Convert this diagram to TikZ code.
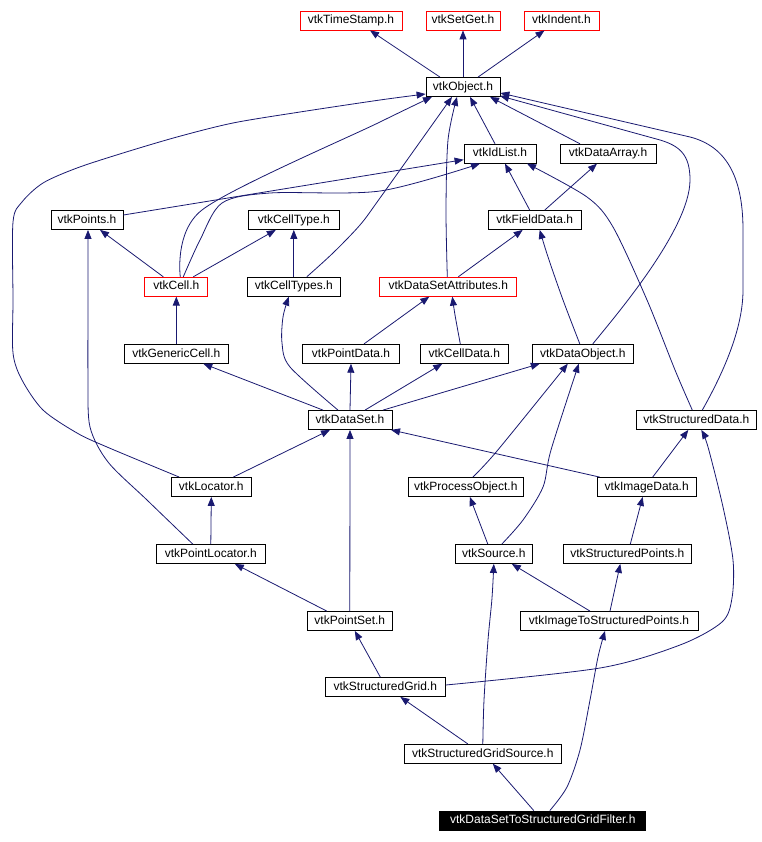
\documentclass[tikz,border=0pt]{standalone}
\usepackage{fontspec}
\setmainfont{Liberation Sans}
\usetikzlibrary{arrows.meta}
\definecolor{edgeblue}{RGB}{25,25,112}
\begin{document}
\begin{tikzpicture}[x=1pt,y=-1pt,
  box/.style={draw=black,line width=0.8pt,fill=white,inner sep=0pt,minimum height=19pt,
    text height=8.8pt,text depth=2.4pt,font=\fontsize{12}{14}\selectfont},
  redbox/.style={box,draw=red},
  blackbox/.style={box,fill=black,text=white},
  e/.style={draw=edgeblue,line width=0.8pt,-{Triangle[length=9pt,width=7pt]}}]
\useasboundingbox (0,0) rectangle (761,842);
% nodes
\node[redbox,minimum width=102pt] (ts) at (351,20.5) {vtkTimeStamp.h};
\node[redbox,minimum width=74pt] (sg) at (463,20.5) {vtkSetGet.h};
\node[redbox,minimum width=75pt] (ind) at (561.5,20.5) {vtkIndent.h};
\node[box,minimum width=74pt] (obj) at (463,87) {vtkObject.h};
\node[box,minimum width=72pt] (idl) at (500,153.7) {vtkIdList.h};
\node[box,minimum width=96pt] (da) at (608,153.7) {vtkDataArray.h};
\node[box,minimum width=72pt] (pts) at (87,220) {vtkPoints.h};
\node[box,minimum width=91pt] (ct) at (293.8,220) {vtkCellType.h};
\node[box,minimum width=93pt] (fd) at (534.7,220) {vtkFieldData.h};
\node[redbox,minimum width=63pt] (cell) at (176.3,286.7) {vtkCell.h};
\node[box,minimum width=93pt] (cts) at (293.8,286.7) {vtkCellTypes.h};
\node[redbox,minimum width=137pt] (dsa) at (448.3,286.7) {vtkDataSetAttributes.h};
\node[box,minimum width=104pt] (gc) at (176.3,353.8) {vtkGenericCell.h};
\node[box,minimum width=97pt] (pd) at (351,353.8) {vtkPointData.h};
\node[box,minimum width=88pt] (cd) at (464.3,353.8) {vtkCellData.h};
\node[box,minimum width=101pt] (do) at (582.8,353.8) {vtkDataObject.h};
\node[box,minimum width=84pt] (ds) at (350,420) {vtkDataSet.h};
\node[box,minimum width=120pt] (sd) at (696.3,420) {vtkStructuredData.h};
\node[box,minimum width=80pt] (loc) at (211.3,487) {vtkLocator.h};
\node[box,minimum width=115pt] (po) at (465.8,487) {vtkProcessObject.h};
\node[box,minimum width=99pt] (id) at (646.7,487) {vtkImageData.h};
\node[box,minimum width=109pt] (pl) at (210.8,554) {vtkPointLocator.h};
\node[box,minimum width=77pt] (src) at (493.8,554) {vtkSource.h};
\node[box,minimum width=128pt] (sp) at (627.3,554) {vtkStructuredPoints.h};
\node[box,minimum width=85pt] (ps) at (349.8,621) {vtkPointSet.h};
\node[box,minimum width=178pt] (itsp) at (609,621) {vtkImageToStructuredPoints.h};
\node[box,minimum width=120pt] (sgr) at (385.3,687) {vtkStructuredGrid.h};
\node[box,minimum width=157pt] (sgs) at (482.8,753.8) {vtkStructuredGridSource.h};
\node[blackbox,minimum width=206pt] (f) at (542.8,820.5) {vtkDataSetToStructuredGridFilter.h};
% edges
\draw[e] ([xshift=-23pt]obj.north) -- ([xshift=19pt]ts.south);
\draw[e] (obj.north) -- (sg.south);
\draw[e] ([xshift=15pt]obj.north) -- ([xshift=-17pt]ind.south);
\draw[e] ([xshift=-5pt]idl.north) -- ([xshift=7pt]obj.south);
\draw[e] ([xshift=-28pt]da.north) -- ([xshift=27pt]obj.south);
\draw[e] ([yshift=5pt]pts.east) -- ([yshift=-6pt]idl.west);
\draw[e] plot[smooth,tension=0.5] coordinates {([xshift=-32pt]loc.north) (107,447) (77,433) (43,410) (22,380) (13,353) (13,300) (13,222) (22,202) (43,183) (77,168) (123,153) (177,137) (233,123) (300,112) (380,100) ([yshift=-7pt]obj.west)};
\draw[e] plot[smooth,tension=0.5] coordinates {([xshift=4pt]cell.north) (202,210) (380,122) ([xshift=-31pt]obj.south)};
\draw[e] plot[smooth,tension=0.5] coordinates {([xshift=7pt]cell.north) (200,240) (222,203) (270,193) (380,191) ([xshift=-20pt]idl.south)};
\draw[e] ([xshift=-13pt]cell.north) -- ([xshift=13pt]pts.south);
\draw[e] ([xshift=17pt]cell.north) -- ([xshift=-18pt]ct.south);
\draw[e] (cts.north) -- (ct.south);
\draw[e] plot[smooth,tension=0.5] coordinates {([xshift=13pt]cts.north) (333,253) (360,225) (380,198) ([xshift=-11pt]obj.south)};
\draw[e] plot[smooth,tension=0.5] coordinates {([xshift=-1pt]dsa.north) (446,210) (448,140) ([xshift=-6pt]obj.south)};
\draw[e] ([xshift=10pt]do.north) .. controls (612,320) and (690,230) .. (690,180)
  .. controls (690,155) and (680,146) .. (660,140) -- ([xshift=37pt,yshift=1pt]obj.south);
\draw[e] ([xshift=6pt]sd.north) .. controls (722,375) and (743,330) .. (743,290) -- (743,230)
  .. controls (743,175) and (725,146) .. (690,137) -- ([yshift=-6pt]obj.east);
\draw[e] plot[smooth,tension=0.5] coordinates {([xshift=-4pt]sd.north) (675,370) (647,300) (613,227) (587,197) ([xshift=27pt]idl.south)};
\draw[e] ([xshift=-5pt]fd.north) -- ([xshift=5pt]idl.south);
\draw[e] ([xshift=10pt]fd.north) -- ([xshift=-11pt]da.south);
\draw[e] ([xshift=10pt]dsa.north) -- ([xshift=-12pt]fd.south);
\draw[e] plot[smooth,tension=0.5] coordinates {([xshift=-3pt]do.north) (563,300) (548,257) ([xshift=5pt]fd.south)};
\draw[e] ([xshift=13pt]pd.north) -- ([xshift=-19pt]dsa.south);
\draw[e] plot[smooth,tension=0.5] coordinates {([xshift=-4pt]cd.north) (455,315) ([xshift=4pt]dsa.south)};
\draw[e] (gc.north) -- (cell.south);
\draw[e] plot[smooth,tension=0.5] coordinates {([xshift=-12pt]ds.north) (290,367) (282,343) (283,317) ([xshift=-5pt]cts.south)};
\draw[e] ([xshift=-27pt]ds.north) -- ([xshift=27pt]gc.south);
\draw[e] (ds.north) -- (pd.south);
\draw[e] ([xshift=15pt]ds.north) -- ([xshift=-22pt]cd.south);
\draw[e] ([xshift=33pt]ds.north) -- ([xshift=-43pt]do.south);
\draw[e] ([xshift=22pt]loc.north) -- ([xshift=-20pt]ds.south);
\draw[e] ([xshift=-47pt]id.north) -- ([xshift=41pt]ds.south);
\draw[e] ([xshift=6pt]id.north) -- ([xshift=-8pt]sd.south);
\draw[e] plot[smooth,tension=0.5] coordinates {([xshift=7pt]po.north) (497,451) ([xshift=-15pt]do.south)};
\draw[e] ([xshift=-6pt]src.north) -- ([xshift=4pt]po.south);
\draw[e] plot[smooth,tension=0.5] coordinates {([xshift=8pt]src.north) (523,520) (543,487) (551,450) ([xshift=-4pt]do.south)};
\draw[e] (pl.north) -- (loc.south);
\draw[e] plot[smooth,tension=0.5] coordinates {([xshift=-18pt]pl.north) (147,500) (108,462) (90,427) (88,380) (88,300) ([xshift=1pt]pts.south)};
\draw[e] ([xshift=3pt]sp.north) -- ([xshift=-4pt]id.south);
\draw[e] ([xshift=-23pt]ps.north) -- ([xshift=24pt]pl.south);
\draw[e] (ps.north) -- (ds.south);
\draw[e] ([xshift=-19pt]itsp.north) -- ([xshift=18pt]src.south);
\draw[e] ([xshift=1pt]itsp.north) -- ([xshift=-7pt]sp.south);
\draw[e] ([xshift=-5pt]sgr.north) -- ([xshift=5pt]ps.south);
\draw[e] plot[smooth,tension=0.5] coordinates {([yshift=2pt]sgr.east) (600,668) (680,645) (722,622) (732,598) (733,560) (723,507) (708,447) ([xshift=5pt]sd.south)};
\draw[e] ([xshift=-15pt]sgs.north) -- ([xshift=15pt]sgr.south);
\draw[e] plot[smooth,tension=0.5] coordinates {(sgs.north) (484,700) (488,640) (492,598) (src.south)};
\draw[e] ([xshift=-9pt]f.north) -- ([xshift=10pt]sgs.south);
\draw[e] plot[smooth,tension=0.5] coordinates {([xshift=7pt]f.north) (567,787) (580,750) (590,700) (598,657) ([xshift=-4pt]itsp.south)};
\end{tikzpicture}
\end{document}
